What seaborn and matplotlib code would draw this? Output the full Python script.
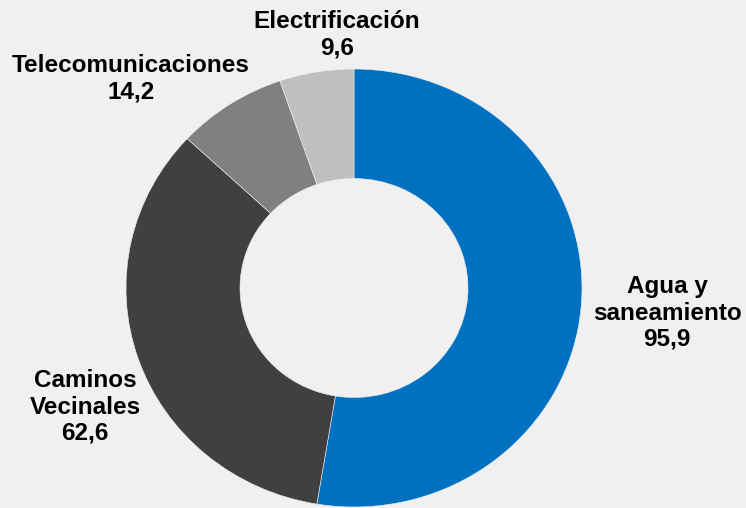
import matplotlib
matplotlib.use("Agg")
import matplotlib.pyplot as plt
import seaborn as sns

categories = ["Agua y\nsaneamiento", "Caminos\nVecinales", "Telecomunicaciones", "Electrificación"]
values = [95.9, 62.6, 14.2, 9.6]
value_labels = ["95,9", "62,6", "14,2", "9,6"]
colors = ["#0070C0", "#404040", "#808080", "#BFBFBF"]

# label anchor positions in pixels (x, y from top)
label_pos = [(667, 313), (85, 407), (131, 79), (337, 35)]

sns.set_theme(style="white")
plt.rcParams["font.family"] = ["Liberation Sans", "DejaVu Sans"]

W, H = 746, 508
fig = plt.figure(figsize=(W / 100, H / 100), dpi=100, facecolor="#F0F0F0")

cx, cy = 354, 288      # pixel centre (y from top)
rx, ry = 228, 219      # pixel radii
ax = fig.add_axes([(cx - rx) / W, (H - cy - ry) / H, 2 * rx / W, 2 * ry / H])
ax.set_facecolor("#F0F0F0")

wedges, _ = ax.pie(values, colors=sns.color_palette(colors), startangle=90, counterclock=False,
                   radius=1.0, wedgeprops=dict(width=0.5, edgecolor="#F0F0F0", linewidth=0.4))
ax.set_aspect("auto")
ax.set_xlim(-1, 1)
ax.set_ylim(-1, 1)
ax.axis("off")

for cat, vl, (px, py) in zip(categories, value_labels, label_pos):
    fig.text(px / W, 1 - py / H, f"{cat}\n{vl}", ha="center", va="center",
             fontsize=17.5, fontweight="bold", color="black", linespacing=1.17)

fig.savefig("out.png", dpi=100, facecolor="#F0F0F0")
